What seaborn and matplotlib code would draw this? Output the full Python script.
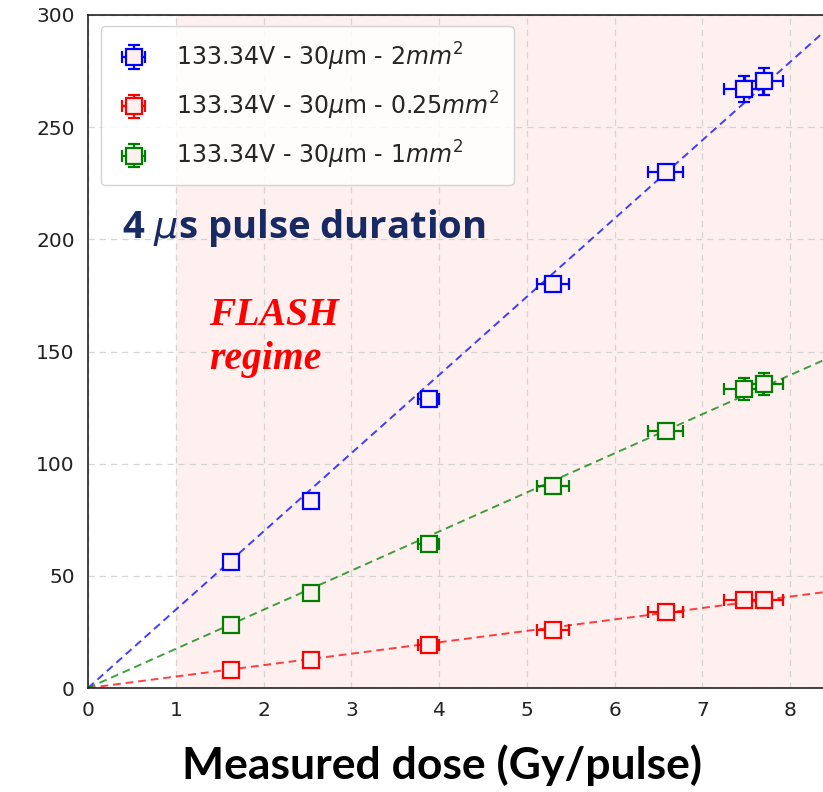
import numpy as np
import pandas as pd
import matplotlib
matplotlib.use("Agg")
import matplotlib.pyplot as plt
import seaborn as sns

# ---- data ----
dose = [1.63, 2.54, 3.88, 5.30, 6.58, 7.47, 7.70]
dose_err = [0.05, 0.08, 0.12, 0.18, 0.20, 0.22, 0.22]

sig_2mm = [56.0, 83.5, 129.0, 180.0, 230.0, 267.0, 270.5]
sig_2mm_err = [1.0, 1.5, 2.0, 2.5, 3.0, 6.0, 6.0]
sig_025mm = [8.0, 12.5, 19.0, 26.0, 33.8, 39.2, 39.2]
sig_025mm_err = [0.3, 0.4, 0.6, 0.8, 1.0, 1.2, 1.2]
sig_1mm = [28.0, 42.4, 64.3, 90.0, 114.5, 133.3, 135.6]
sig_1mm_err = [0.8, 1.0, 1.5, 2.0, 2.5, 4.8, 4.8]

labels = [r"133.34V - 30$\mu$m - 2$mm^2$",
          r"133.34V - 30$\mu$m - 0.25$mm^2$",
          r"133.34V - 30$\mu$m - 1$mm^2$"]
colors = ["blue", "red", "green"]
series = [(sig_2mm, sig_2mm_err), (sig_025mm, sig_025mm_err), (sig_1mm, sig_1mm_err)]
xticks = [0, 1, 2, 3, 4, 5, 6, 7, 8]
yticks = [0, 50, 100, 150, 200, 250, 300]

sns.set_style("white")
plt.rcParams["font.family"] = ["DejaVu Sans"]

fig = plt.figure(figsize=(8.23, 7.92), dpi=100)
ax = fig.add_axes([88 / 823, 104 / 792, 790 / 823, 673 / 792])

ax.axvspan(1, 10, color="red", alpha=0.06, lw=0, zorder=0)

xfit = np.linspace(0, 9.5, 50)
xd = np.asarray(dose)
for (y, yerr), c, lab in zip(series, colors, labels):
    yd = np.asarray(y)
    slope = (xd * yd).sum() / (xd * xd).sum()  # fit through origin
    fit_df = pd.DataFrame({"x": xfit, "y": slope * xfit})
    sns.lineplot(data=fit_df, x="x", y="y", ax=ax, color=c, lw=1.4,
                 linestyle=(0, (4, 2.5)), alpha=0.75, legend=False, zorder=2)
    ax.errorbar(dose, y, xerr=dose_err, yerr=yerr, fmt="s", mfc="#fff0f0",
                mec=c, color=c, ms=11, mew=1.6, elinewidth=1.6, capsize=4,
                capthick=1.6, label=lab, zorder=3)

ax.set_xlim(0, 9)
ax.set_ylim(0, 300)
ax.set_xticks(xticks)
ax.set_yticks(yticks)
ax.tick_params(axis="both", labelsize=14.5, length=6, width=1, direction="out",
               colors="#222222", labelcolor="#222222")
ax.grid(True, linestyle=(0, (5, 4)), color="#cccccc", lw=0.9, alpha=0.8)
for s in ["left", "bottom", "top", "right"]:
    ax.spines[s].set_color("#222222")
    ax.spines[s].set_linewidth(1.2)
ax.set_xlabel("")
ax.set_ylabel("")

leg = ax.legend(loc="upper left", bbox_to_anchor=(0.01, 0.99), fontsize=17,
                frameon=True, handlelength=1.6, handletextpad=1.0,
                borderpad=0.6, labelspacing=0.72, borderaxespad=0.2)
leg.get_frame().set_edgecolor("#cccccc")
leg.get_frame().set_facecolor("white")
leg.get_frame().set_alpha(0.85)

fig.text(122 / 823, 1 - 228 / 792, r"4 $\mu$s pulse duration", fontsize=27.5,
         fontweight="bold", color="#172a63", family=["Open Sans", "DejaVu Sans"],
         va="center", ha="left")
fig.text(209 / 823, 1 - 338 / 792, "FLASH\nregime", fontsize=28.5,
         fontstyle="italic", fontweight="bold", color="red",
         family=["Liberation Serif"], ha="left", va="center", linespacing=1.25)

fig.text(442 / 823, 1 - 765 / 792, "Measured dose (Gy/pulse)", fontsize=32,
         fontweight="bold", color="black", family=["Lato", "DejaVu Sans"],
         ha="center", va="center")

fig.savefig("out.png", dpi=100)
